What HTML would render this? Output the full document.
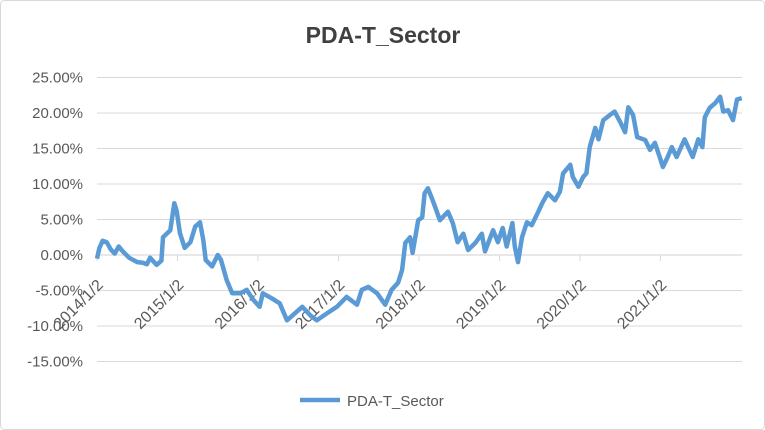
<!DOCTYPE html>
<html><head><meta charset="utf-8"><style>
body{margin:0;background:#fff;font-family:"Liberation Sans",Arial,sans-serif}
svg{display:block}
</style></head><body>
<svg width="765" height="430" id="chart">
<rect x="0.5" y="0.5" width="764" height="429" rx="4" fill="#fff" stroke="#d9d9d9"/>
<text x="383" y="43" text-anchor="middle" font-size="23" font-weight="bold" fill="#404040">PDA-T_Sector</text>
<g id="grid"></g><g id="yl"></g><g id="xl"></g>
<g id="series"></g>
<g>
<line x1="300" y1="400" x2="340" y2="400" stroke="#5b9bd5" stroke-width="4.5"/>
<text x="347" y="406" font-size="15" fill="#595959">PDA-T_Sector</text>
</g>
</svg>
<script>
const yTicks=[25,20,15,10,5,0,-5,-10,-15];
const xTickLabels=["2014/1/2","2015/1/2","2016/1/2","2017/1/2","2018/1/2","2019/1/2","2020/1/2","2021/1/2"];
const xTickYears=[0,1,2,3,4,5,6,7];
const times=[0,0.03,0.07,0.12,0.17,0.22,0.27,0.32,0.4,0.5,0.57,0.62,0.66,0.74,0.8,0.82,0.91,0.96,0.99,1.03,1.09,1.16,1.22,1.28,1.32,1.35,1.43,1.5,1.54,1.61,1.68,1.78,1.86,1.94,2.02,2.06,2.17,2.27,2.36,2.48,2.55,2.65,2.73,2.86,2.98,3.1,3.23,3.29,3.37,3.48,3.58,3.66,3.74,3.79,3.83,3.89,3.92,3.99,4.04,4.07,4.11,4.17,4.26,4.36,4.42,4.48,4.55,4.61,4.7,4.78,4.82,4.92,4.98,5.04,5.09,5.16,5.19,5.23,5.28,5.34,5.4,5.47,5.53,5.6,5.69,5.75,5.79,5.88,5.91,5.98,6.04,6.08,6.12,6.19,6.23,6.29,6.37,6.43,6.5,6.56,6.6,6.66,6.71,6.81,6.87,6.93,6.99,7.03,7.09,7.14,7.2,7.3,7.4,7.47,7.52,7.55,7.61,7.68,7.74,7.78,7.84,7.9,7.95,8.01];
const values=[-0.5,1.0,2.0,1.8,0.8,0.2,1.2,0.5,-0.4,-1.0,-1.1,-1.3,-0.4,-1.4,-0.8,2.5,3.5,7.3,6.2,3.1,1.0,1.8,4.0,4.6,2.1,-0.7,-1.6,0,-0.7,-3.5,-5.4,-5.4,-4.9,-6.3,-7.3,-5.4,-6.1,-6.8,-9.2,-8.0,-7.3,-8.5,-9.2,-8.2,-7.3,-5.9,-7.0,-4.9,-4.5,-5.4,-7.0,-4.9,-3.9,-2.1,1.7,2.5,0.3,4.9,5.3,8.7,9.4,7.7,4.9,6.1,4.5,1.8,3.0,0.7,1.7,3.0,0.5,3.5,1.8,3.8,1.2,4.5,1.2,-1.0,2.5,4.6,4.2,5.8,7.3,8.7,7.7,8.9,11.5,12.7,11.0,9.6,11.0,11.5,15.2,17.9,16.3,19.0,19.7,20.2,18.7,17.3,20.8,19.7,16.6,16.2,14.8,15.8,13.8,12.4,13.8,15.2,13.8,16.3,13.8,16.3,15.2,19.4,20.7,21.4,22.3,20.2,20.4,19.0,21.9,22.1];
const NS="http://www.w3.org/2000/svg";
const X0=97,PXY=80.5,Y0=255,PXV=7.1;
const xs=t=>X0+t*PXY, ys=v=>Y0-v*PXV;
const grid=document.getElementById('grid'),yl=document.getElementById('yl'),xl=document.getElementById('xl'),ser=document.getElementById('series');
yTicks.forEach(v=>{
 const l=document.createElementNS(NS,'line');
 
 
 l.setAttribute('x1',97);l.setAttribute('x2',742);l.setAttribute('y1',ys(v));l.setAttribute('y2',ys(v));
 l.setAttribute('stroke',v===0?'#d0d0d0':'#d9d9d9');l.setAttribute('stroke-width',1);
 grid.appendChild(l);
 const t=document.createElementNS(NS,'text');
 
 
 t.setAttribute('x',83);t.setAttribute('y',ys(v)+5);t.setAttribute('text-anchor','end');
 t.setAttribute('font-size','15');t.setAttribute('fill','#595959');
 t.textContent=v.toFixed(2)+'%';yl.appendChild(t);
});
xTickYears.forEach((yr,i)=>{
 const x=xs(yr);
 const k=document.createElementNS(NS,'line');
 
 
 k.setAttribute('x1',x);k.setAttribute('x2',x);k.setAttribute('y1',255);k.setAttribute('y2',261);k.setAttribute('stroke','#d9d9d9');
 xl.appendChild(k);
 const t=document.createElementNS(NS,'text');
 
 
 const ax=x+7, ay=286;
 t.setAttribute('x',ax);t.setAttribute('y',ay);t.setAttribute('text-anchor','end');
 t.setAttribute('font-size','16');t.setAttribute('fill','#595959');
 t.setAttribute('transform','rotate(-45 '+ax+' '+ay+')');
 t.textContent=xTickLabels[i];xl.appendChild(t);
});
const p=document.createElementNS(NS,'polyline');


p.setAttribute('points',times.map((t,i)=>xs(t).toFixed(1)+','+ys(values[i]).toFixed(1)).join(' '));
p.setAttribute('fill','none');p.setAttribute('stroke','#5b9bd5');p.setAttribute('stroke-width','4.5');p.setAttribute('stroke-linejoin','round');
ser.appendChild(p);
</script>
</body></html>
